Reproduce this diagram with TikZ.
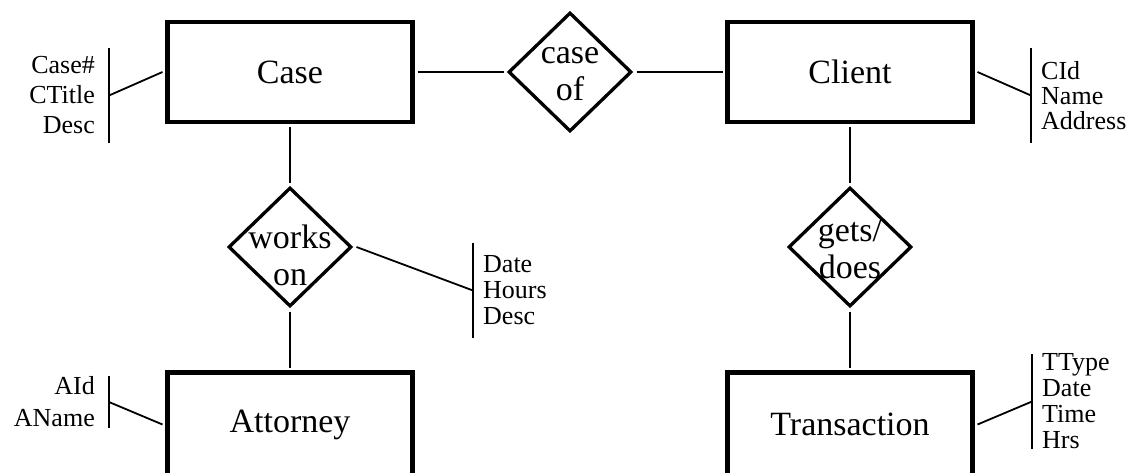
\documentclass[tikz,border=0pt]{standalone}
\usepackage{fontspec}
\setmainfont{Liberation Serif}
\usetikzlibrary{shapes.geometric,positioning}

\begin{document}
\begin{tikzpicture}[x=1pt,y=-1pt]
\tikzset{entity/.style={draw,line width=4.3pt,minimum width=245pt,minimum height=100pt,outer sep=5pt,font=\fontsize{34}{37}\selectfont},
relation/.style={draw,diamond,line width=3.3pt,minimum width=125pt,minimum height=121pt,inner sep=0pt,outer sep=4pt},
reltext/.style={align=center,inner sep=0pt,font=\fontsize{34}{37}\selectfont},
attr/.style={inner sep=0pt,font=\fontsize{26}{#1}\selectfont},attr/.default=26,
conn/.style={line width=1.8pt},
attrbar/.style={line width=1.8pt}}
\useasboundingbox (0,0) rectangle (1130,472);

\node[entity] (case) at (290,72) {Case};
\node[entity] (client) at (850,72) {Client};
\node[entity,minimum height=104pt] (attorney) at (290,424.5) {Attorney};
\node[entity,minimum height=104pt] (transaction) at (850,424.5) {Transaction};

\node[relation] (caseof) at (570,72) {};
\node[relation] (workson) at (290,247) {};
\node[relation] (getsdoes) at (850,247) {};
\node[reltext,yshift=-2pt] (caseof-t) at (caseof) {case\\of};
\node[reltext,yshift=-8pt] (workson-t) at (workson) {works\\on};
\node[reltext,yshift=-2pt] (getsdoes-t) at (getsdoes) {gets/\\does};

\coordinate (casebar) at (109,95.5);
\coordinate (clientbar) at (1031,95.5);
\coordinate (worksbar) at (473,290.5);
\coordinate (attorneybar) at (109,402);
\coordinate (transactionbar) at (1032,401.5);
\draw[attrbar] ([yshift=47.5pt]casebar) -- ([yshift=-47.5pt]casebar);
\draw[attrbar] ([yshift=47.5pt]clientbar) -- ([yshift=-47.5pt]clientbar);
\draw[attrbar] ([yshift=47.5pt]worksbar) -- ([yshift=-47.5pt]worksbar);
\draw[attrbar] ([yshift=26pt]attorneybar) -- ([yshift=-26pt]attorneybar);
\draw[attrbar] ([yshift=47.5pt]transactionbar) -- ([yshift=-47.5pt]transactionbar);

\node[attr=30,align=right,left=14pt of casebar] (casekeys) {Case\#\\CTitle\\Desc};
\node[attr=25,align=left,right=10pt of clientbar] (clientkeys) {CId\\Name\\Address};
\node[attr=26,align=left,right=10pt of worksbar] (workskeys) {Date\\Hours\\Desc};
\node[attr=32,align=right,left=14pt of attorneybar] (attorneykeys) {AId\\AName};
\node[attr=26,align=left,right=10pt of transactionbar] (transactionkeys) {TType\\Date\\Time\\Hrs};

\draw[conn] (case) -- (caseof);
\draw[conn] (caseof) -- (client);
\draw[conn] (case) -- (workson);
\draw[conn] (workson) -- (attorney);
\draw[conn] (client) -- (getsdoes);
\draw[conn] (getsdoes) -- (transaction);
\draw[conn] (case.west) -- (casebar);
\draw[conn] (client.east) -- (clientbar);
\draw[conn] (workson.east) -- (worksbar);
\draw[conn] (attorney.west) -- (attorneybar);
\draw[conn] (transaction.east) -- (transactionbar);
\end{tikzpicture}
\end{document}
